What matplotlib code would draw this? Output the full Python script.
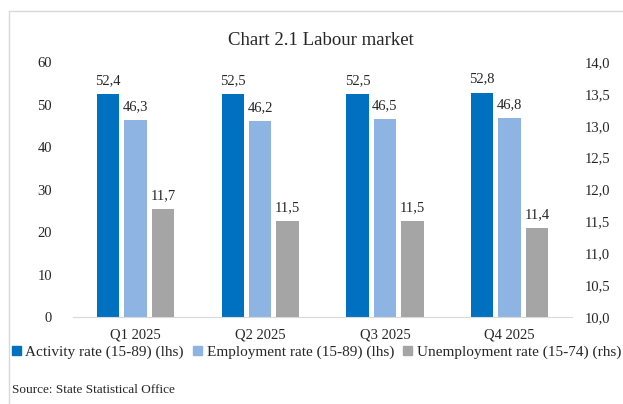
import matplotlib.pyplot as plt
import numpy as np
from matplotlib.lines import Line2D
from matplotlib.patches import Patch

plt.rcParams['font.family'] = ['Liberation Serif', 'DejaVu Serif']

quarters = ['Q1 2025', 'Q2 2025', 'Q3 2025', 'Q4 2025']
activity = [52.4, 52.5, 52.5, 52.8]
employment = [46.3, 46.2, 46.5, 46.8]
unemployment = [11.7, 11.5, 11.5, 11.4]

c_act = '#0070C0'
c_emp = '#8DB4E2'
c_unemp = '#A5A5A5'
txt = '#262626'


def comma(v, fmt='{:.1f}'):
    return fmt.format(v).replace('.', ',')


fig = plt.figure(figsize=(6.23, 4.04), dpi=100)
ax = fig.add_axes([0.1172, 0.2153, 0.8010, 0.6312])
ax2 = ax.twinx()

x = np.arange(len(quarters))
w = 0.179
step = 0.22

b1 = ax.bar(x - step, activity, w, color=c_act)
b2 = ax.bar(x, employment, w, color=c_emp)
b3 = ax2.bar(x + step, unemployment, w, color=c_unemp)

for bars, vals, a in [(b1, activity, ax), (b2, employment, ax), (b3, unemployment, ax2)]:
    for rect, v in zip(bars, vals):
        a.annotate(comma(v), (rect.get_x() + rect.get_width() / 2, v),
                   xytext=(0, 5), textcoords='offset points',
                   ha='center', va='bottom', fontsize=10.5, color=txt)

ax.set_xlim(-0.5, 3.5)
ax.set_ylim(0, 60)
ax.set_yticks(range(0, 61, 10))
ax2.set_ylim(10, 14)
ax2.set_yticks(np.arange(10, 14.01, 0.5))
ax2.set_yticklabels([comma(t) for t in np.arange(10, 14.01, 0.5)])
ax.set_xticks(x)
ax.set_xticklabels(quarters)

for a in (ax, ax2):
    for s in a.spines.values():
        s.set_visible(False)
    a.tick_params(length=0, labelsize=10.5, colors=txt)
ax.spines['bottom'].set_visible(True)
ax.spines['bottom'].set_color('#D9D9D9')
ax.tick_params(axis='y', pad=15)
ax.tick_params(axis='x', pad=8)
ax2.tick_params(axis='y', pad=9)

fig.text(0.515, 0.9, 'Chart 2.1 Labour market', ha='center', va='center',
         fontsize=13.5, color=txt)

handles = [Patch(color=c_act), Patch(color=c_emp), Patch(color=c_unemp)]
labels = ['Activity rate (15-89) (lhs)', 'Employment rate (15-89) (lhs)',
          'Unemployment rate (15-74) (rhs)']
fig.legend(handles, labels, loc='center', bbox_to_anchor=(0.508, 0.128), ncol=3,
           frameon=False, fontsize=11, handlelength=0.6, handleheight=0.6,
           handletextpad=0.3, columnspacing=0.6, labelcolor=txt)

fig.text(0.02, 0.035, 'Source: State Statistical Office', ha='left', va='center',
         fontsize=9.5, color=txt)

# outer frame (left and top edges)
fig.add_artist(Line2D([0.0144, 0.0144], [0.0, 0.973], color='#D9D9D9', lw=1))
fig.add_artist(Line2D([0.0144, 1.0], [0.973, 0.973], color='#D9D9D9', lw=1))

fig.savefig('out.png', dpi=100)
